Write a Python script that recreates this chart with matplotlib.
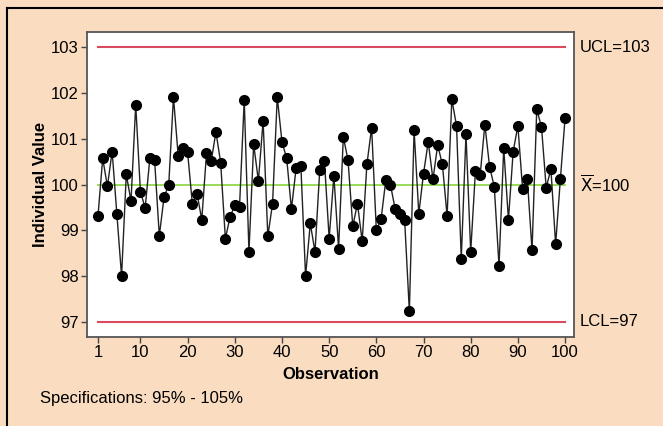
import matplotlib.pyplot as plt
from matplotlib.lines import Line2D

plt.rcParams['font.family'] = ['Liberation Sans', 'DejaVu Sans']

# individual measurements, observations 1..100
observation = list(range(1, 101))
values = [
    99.31, 100.57, 99.96, 100.72, 99.36, 98.00, 100.22, 99.64, 101.74, 99.84,
    99.49, 100.58, 100.53, 98.88, 99.72, 100.00, 101.91, 100.63, 100.80, 100.70,
    99.58, 99.80, 99.23, 100.68, 100.51, 101.15, 100.48, 98.82, 99.29, 99.55,
    99.51, 101.85, 98.53, 100.88, 100.08, 101.39, 98.87, 99.58, 101.91, 100.93,
    100.57, 99.46, 100.36, 100.41, 98.00, 99.15, 98.53, 100.31, 100.51, 98.82,
    100.19, 98.60, 101.04, 100.53, 99.09, 99.58, 98.76, 100.44, 101.24, 99.00,
    99.24, 100.09, 99.99, 99.46, 99.36, 99.22, 97.23, 101.19, 99.36, 100.24,
    100.93, 100.11, 100.86, 100.44, 99.31, 101.86, 101.28, 98.38, 101.10, 98.53,
    100.29, 100.20, 101.31, 100.39, 99.95, 98.22, 100.79, 99.23, 100.72, 101.28,
    99.90, 100.13, 98.56, 101.64, 101.26, 99.93, 100.34, 98.69, 100.11, 101.45,
]
ucl = 103
center = 100
lcl = 97
xticks = [1, 10, 20, 30, 40, 50, 60, 70, 80, 90, 100]
yticks = [97, 98, 99, 100, 101, 102, 103]

bg = '#fadcc1'
red = '#d94a5c'
green = '#86d43c'
fs = 12

fig = plt.figure(figsize=(6.63, 4.26), dpi=100, facecolor=bg)
ax = fig.add_axes([0.1312, 0.2089, 0.7346, 0.716])
ax.set_facecolor('white')

# control limits and centre line
ax.plot([observation[0], observation[-1]], [ucl, ucl], color=red, lw=1.5)
ax.plot([observation[0], observation[-1]], [lcl, lcl], color=red, lw=1.5)
ax.plot([observation[0], observation[-1]], [center, center], color=green, lw=1.2)

ax.plot(observation, values, color='#222222', lw=1.0, marker='o',
        markersize=7, markerfacecolor='black', markeredgecolor='black', zorder=3)

ax.set_xlim(-1.33, 101.9)
ax.set_ylim(96.67, 103.33)
ax.set_xticks(xticks)
ax.set_yticks(yticks)
ax.tick_params(labelsize=fs, length=4, width=1, color='#444444', pad=2)
for s in ax.spines.values():
    s.set_color('#555555')
    s.set_linewidth(1.3)

ax.set_xlabel('Observation', fontsize=fs, fontweight='bold', labelpad=5)
ax.set_ylabel('Individual Value', fontsize=fs, fontweight='bold', labelpad=2)

# labels to the right of the plot
tr = ax.get_yaxis_transform()
ax.text(1.012, ucl, 'UCL=103', transform=tr, fontsize=fs, va='center', ha='left')
ax.text(1.012, center, r'$\overline{\mathrm{X}}$=100', transform=tr,
        fontsize=fs, va='center', ha='left')
ax.text(1.012, lcl, 'LCL=97', transform=tr, fontsize=fs, va='center', ha='left')

fig.text(40 / 663, 1 - 399 / 426, 'Specifications: 95% - 105%', fontsize=fs,
         va='center', ha='left')

# outer frame: only top and left edges are visible
fig.add_artist(Line2D([7 / 663, 7 / 663], [0, 1 - 8 / 426], color='black', lw=1.5,
                      transform=fig.transFigure))
fig.add_artist(Line2D([7 / 663, 1], [1 - 8 / 426, 1 - 8 / 426], color='black', lw=1.5,
                      transform=fig.transFigure))

fig.savefig('out.png', dpi=100, facecolor=bg)
